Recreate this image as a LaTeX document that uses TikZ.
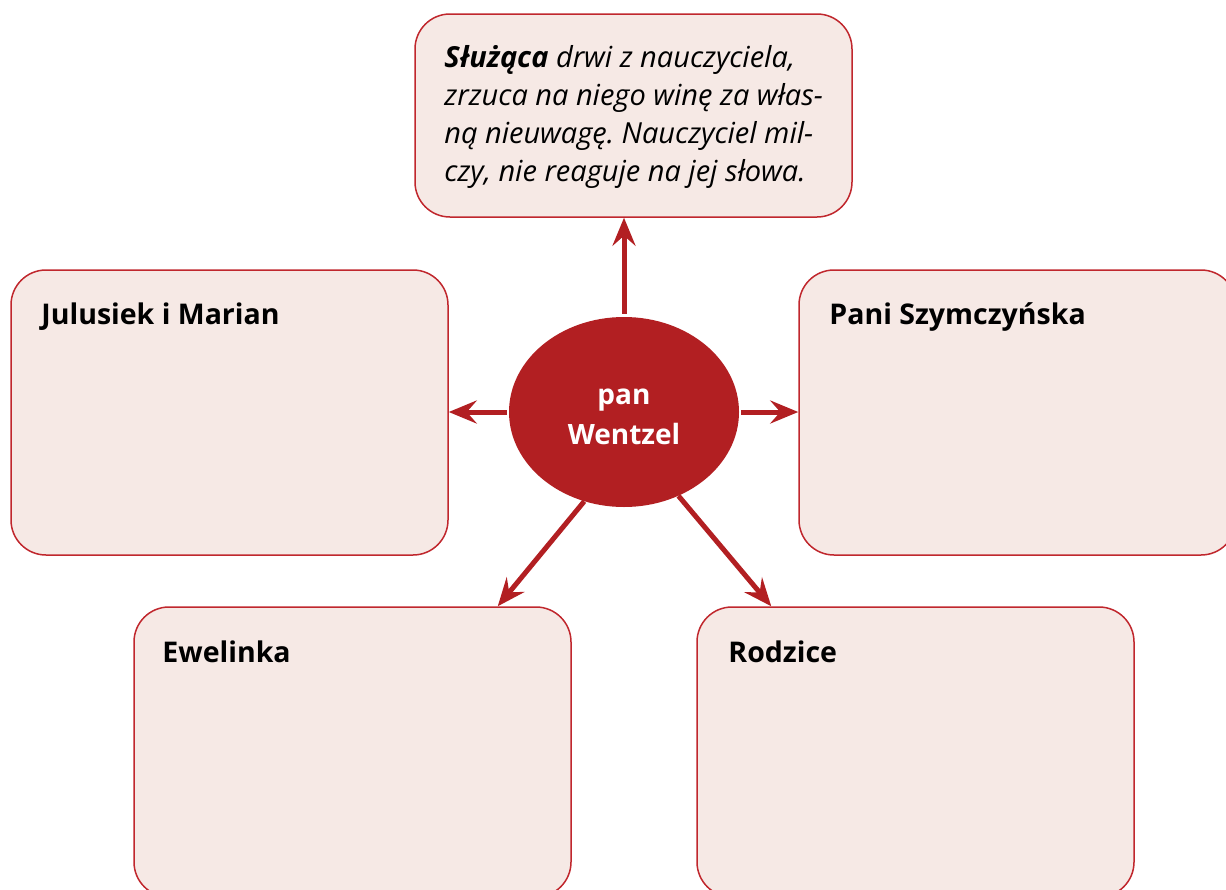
\documentclass[tikz,border=0pt]{standalone}
\usepackage{fontspec}
\setmainfont{Open Sans}
\usetikzlibrary{arrows.meta,shapes.geometric}
\definecolor{wred}{HTML}{B21F22}
\definecolor{wline}{HTML}{C0272D}
\definecolor{wfill}{HTML}{F6E9E5}
\frenchspacing

\begin{document}
\begin{tikzpicture}[x=1pt,y=-1pt,
		box/.style={draw=wline,line width=1.5pt,fill=wfill,rounded corners=35pt,minimum width=437pt,inner sep=0pt},
		head/.style={anchor=base west,font=\fontsize{28.5}{35}\selectfont\bfseries,inner sep=0pt},
		arr/.style={draw=wred,line width=5pt,-{Stealth[length=28pt,width=23pt,inset=10pt]}}]
	\useasboundingbox (0,0) rectangle (1226,889);
	\clip (0,0) rectangle (1226,889);
		\node[box,minimum height=203pt](tb) at (633.5,115.5){};
		\node[box,minimum height=285pt](lb) at (229.5,412.5){};
		\node[box,minimum height=285pt](rb) at (1017.5,412.5){};
		\node[box,minimum height=290pt](bl) at (352.5,752){};
		\node[box,minimum height=290pt](br) at (915.5,752){};
		\node[ellipse,fill=wred,minimum width=230pt,minimum height=190pt,inner sep=0pt](ell) at (624,412){};
		\node[align=center,text=white,inner sep=0pt,font=\fontsize{28}{40}\selectfont\bfseries](elltext)
			at ([yshift=-5pt]ell.center){pan\\Wentzel};
		\node[anchor=base west,inner sep=0pt,align=left,font=\fontsize{29}{38}\selectfont\itshape](tbtext)
			at ([xshift=30pt,yshift=-168pt]tb.north west){\textbf{Służąca} drwi z nauczyciela,\\
			zrzuca na niego winę za włas-\\
			ną nieuwagę. Nauczyciel mil-\\
			czy, nie reaguje na jej słowa.};
		\node[head](lbtext) at ([xshift=31pt,yshift=-55pt]lb.north west){Julusiek i Marian};
		\node[head](rbtext) at ([xshift=31pt,yshift=-55pt]rb.north west){Pani Szymczyńska};
		\node[head](bltext) at ([xshift=29pt,yshift=-56pt]bl.north west){Ewelinka};
		\node[head](brtext) at ([xshift=32pt,yshift=-56pt]br.north west){Rodzice};
	\draw [arr,shorten <=3pt](ell.north)--(ell.north |- tb.south);
	\draw [arr,shorten <=2pt](ell.west)--(ell.west -| lb.east);
	\draw [arr,shorten <=2pt](ell.east)--(ell.east -| rb.west);
	\draw [arr](ell.-114)--([xshift=-74pt]bl.north east);
	\draw [arr](ell.-57)--([xshift=75pt]br.north west);
\end{tikzpicture}
\end{document}
